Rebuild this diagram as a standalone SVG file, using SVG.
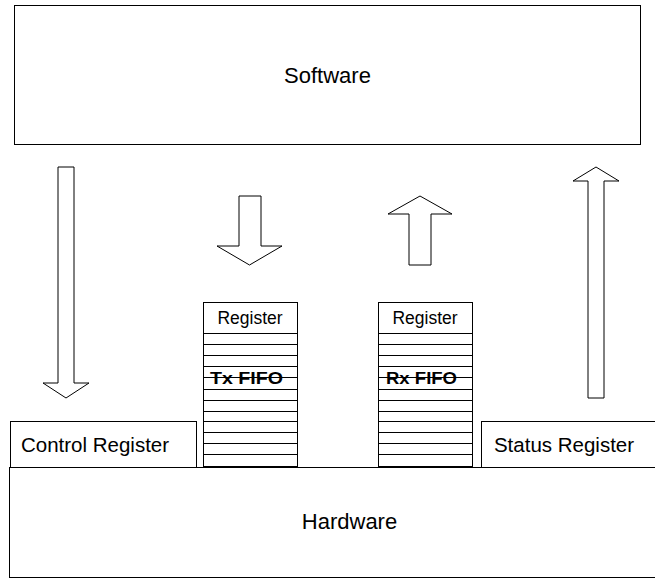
<svg xmlns="http://www.w3.org/2000/svg" width="655" height="579" viewBox="0 0 655 579">
<style>
.box{fill:#fff;stroke:#000;stroke-width:1}
.arrow{fill:#fff;stroke:#000;stroke-width:1;stroke-linejoin:miter}
.ln{stroke:#000;stroke-width:1}
.t{font-family:"Liberation Sans",Arial,sans-serif;fill:#000}
.big{font-size:22px}
.mid{font-size:20.5px}
.sm{font-size:17.5px}
.b{font-size:16px;font-weight:bold}
</style>
<rect width="655" height="579" fill="#fff"/>
<g id="software">
<rect class="box" x="14.5" y="5.5" width="626" height="139"/>
<text class="t big" x="327.5" y="83" text-anchor="middle">Software</text>
</g>
<g id="hardware">
<rect class="box" x="9.5" y="467.5" width="680" height="110"/>
<text class="t big" x="349.5" y="529" text-anchor="middle">Hardware</text>
</g>
<g id="control-register">
<rect class="box" x="10.5" y="421.5" width="186" height="46"/>
<text class="t mid" x="95" y="452" text-anchor="middle">Control Register</text>
</g>
<g id="status-register">
<rect class="box" x="481.5" y="421.5" width="200" height="46"/>
<text class="t mid" x="564" y="452" text-anchor="middle">Status Register</text>
</g>
<g id="tx-fifo">
<rect class="box" x="203.5" y="302.5" width="94" height="31"/>
<text class="t sm" x="250" y="324" text-anchor="middle">Register</text>
<rect class="box" x="203.5" y="333.5" width="94" height="133"/>
<text class="t b" x="210" y="384" textLength="73" lengthAdjust="spacingAndGlyphs">Tx FIFO</text>
<g class="ln">
<line x1="204" y1="344.5" x2="297" y2="344.5"/>
<line x1="204" y1="355.5" x2="297" y2="355.5"/>
<line x1="204" y1="366.5" x2="297" y2="366.5"/>
<line x1="204" y1="377.5" x2="297" y2="377.5"/>
<line x1="204" y1="389.5" x2="297" y2="389.5"/>
<line x1="204" y1="400.5" x2="297" y2="400.5"/>
<line x1="204" y1="411.5" x2="297" y2="411.5"/>
<line x1="204" y1="421.5" x2="297" y2="421.5"/>
<line x1="204" y1="432.5" x2="297" y2="432.5"/>
<line x1="204" y1="443.5" x2="297" y2="443.5"/>
<line x1="204" y1="454.5" x2="297" y2="454.5"/>
</g>
</g>
<g id="rx-fifo">
<rect class="box" x="378.5" y="302.5" width="94" height="31"/>
<text class="t sm" x="425" y="324" text-anchor="middle">Register</text>
<rect class="box" x="378.5" y="333.5" width="94" height="133"/>
<text class="t b" x="386" y="384" textLength="71" lengthAdjust="spacingAndGlyphs">Rx FIFO</text>
<g class="ln">
<line x1="379" y1="344.5" x2="472" y2="344.5"/>
<line x1="379" y1="355.5" x2="472" y2="355.5"/>
<line x1="379" y1="366.5" x2="472" y2="366.5"/>
<line x1="379" y1="377.5" x2="472" y2="377.5"/>
<line x1="379" y1="389.5" x2="472" y2="389.5"/>
<line x1="379" y1="400.5" x2="472" y2="400.5"/>
<line x1="379" y1="411.5" x2="472" y2="411.5"/>
<line x1="379" y1="421.5" x2="472" y2="421.5"/>
<line x1="379" y1="432.5" x2="472" y2="432.5"/>
<line x1="379" y1="443.5" x2="472" y2="443.5"/>
<line x1="379" y1="454.5" x2="472" y2="454.5"/>
</g>
</g>
<g id="connectors">
<polygon class="arrow" points="58,167 74,167 74,383 89,383 66,398 43,383 58,383"/>
<polygon class="arrow" points="239,196 261,196 261,246 282,246 249.5,265 217,246 239,246"/>
<polygon class="arrow" points="420,196 452,214 431,214 431,265 409,265 409,214 388,214"/>
<polygon class="arrow" points="596,167 619,181 604,181 604,398 588,398 588,181 573,181"/>
</g>
</svg>
